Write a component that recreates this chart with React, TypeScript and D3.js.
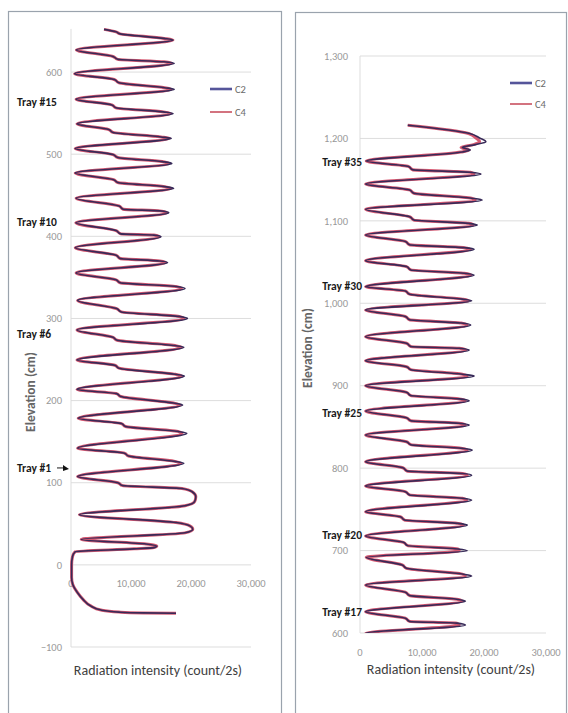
import React from 'react';
import * as d3 from 'd3';

// ---------- Data (elevation cm, intensity count/2s) ----------
const leftYTicks = [-100, 0, 100, 200, 300, 400, 500, 600];
const rightYTicks = [600, 700, 800, 900, 1000, 1100, 1200, 1300];
const xTicks = [0, 10000, 20000, 30000];

// Left panel (bottom section of the column)
const leftHead: [number, number][] = [[652, 5500], [649, 7500], [646.5, 8200], [641, 15500], [639, 17000]];
const leftDipElev = [627, 598, 567, 537, 507, 477, 446.5, 416.5, 386, 355.5, 322, 286, 249.5, 213.5, 178.5, 142];
const leftDipI = [900, 600, 850, 1000, 700, 700, 850, 800, 700, 850, 1100, 1000, 1000, 1000, 1200, 1100];
const leftStepTop: [number, number][] = [[619, 7000], [591, 7200], [560, 6800], [530, 6300], [499.5, 7000], [469, 7100], [437, 8000], [407, 7500], [377, 7500], [347, 7500], [312, 7600], [277, 7000], [243, 7300], [208.5, 7600], [172, 8400], [136, 8900]];
const leftStepBottom: [number, number][] = [[615.5, 7800], [587, 8000], [556.5, 7500], [526.5, 7000], [496, 7800], [465.5, 7800], [433, 8700], [403, 8300], [373, 8200], [343.5, 8200], [308, 8400], [273.5, 7700], [239.5, 8000], [205, 8300], [168.5, 9100], [132.5, 9600]];
const leftPrePeak: [number, number][] = [[612.5, 15500], [581, 15600], [551.5, 15400], [521, 15000], [491, 15200], [460.5, 15600], [431, 14800], [401.5, 13800], [370, 14800], [339, 17500], [302.5, 18000], [267, 17300], [232, 17400], [197, 17100], [162.5, 17800], [126, 17300]];
const leftPeakElev = [610.6, 579, 549.7, 519.3, 488.8, 458.4, 428.8, 399.5, 368, 336.5, 300, 265, 230, 194.6, 160.2, 123.6];
const leftPeakC2 = [17200, 17200, 17000, 16700, 16800, 17100, 16300, 15000, 16100, 19000, 19400, 18800, 18900, 18600, 19300, 18800];
const leftPeakC4 = [16800, 16700, 16600, 16400, 16300, 16700, 16000, 14700, 15800, 18400, 18800, 18400, 18500, 18200, 18500, 18300];
const leftTail: [number, number][] = [[107.5, 1100], [100, 7800], [96.5, 8600], [93, 18500], [89, 20200], [83, 20800], [77, 20600], [72, 19000], [61, 1400], [51.5, 17500], [47.5, 19800], [43.5, 20300], [39, 19000], [31, 1700], [25.5, 12500], [23, 14300], [21, 13800], [19.5, 10500], [16, 700], [10, 250], [0, 100], [-15, 100], [-24, 300], [-33, 1000], [-42, 2000], [-50, 3300], [-55, 5000], [-57.5, 8000], [-58.5, 12000], [-59, 17500]];

// Right panel (upper section of the column)
const rightHeadC2: [number, number][] = [[1216, 7700], [1206, 17700], [1200.5, 19300], [1196, 20300], [1192.5, 18600], [1189, 16500], [1186, 17800], [1183.5, 16500]];
const rightHeadC4: [number, number][] = [[1216, 7700], [1206, 17500], [1200.5, 18700], [1196, 19300], [1192.5, 18300], [1189, 16300], [1186, 17600], [1183.5, 16300]];
const rightDipElev = [1172.5, 1144.7, 1114, 1082.8, 1051.7, 1020.1, 991.9, 959.5, 930.3, 900, 869.3, 840.2, 807.8, 778.3, 747.2, 717.7, 691.8, 658.2, 625.8];
const rightDipI = [1000, 900, 900, 900, 900, 900, 900, 900, 900, 900, 900, 900, 900, 900, 900, 900, 1000, 900, 900];
const rightStepTop: [number, number][] = [[1166, 7800], [1137.5, 8000], [1105, 8000], [1075, 7300], [1044.5, 7500], [1015, 7300], [984, 7300], [951.5, 7500], [923, 7500], [892, 7500], [861, 7500], [832, 7500], [800.5, 6900], [771.5, 7300], [741, 6500], [710, 7000], [682.5, 6800], [649.5, 7300], [618, 7300]];
const rightStepBottom: [number, number][] = [[1162, 8500], [1133.5, 8700], [1101, 8700], [1071, 8000], [1040.5, 8200], [1011, 8000], [980, 8000], [947.5, 8200], [919.5, 8200], [888, 8200], [857.5, 8200], [828.5, 8200], [796.5, 7600], [767.5, 8000], [737, 7200], [706, 7700], [678.5, 7500], [645.5, 8000], [614, 8000]];
const rightPrePeak: [number, number][] = [[1159, 17800], [1127.5, 18000], [1097, 17500], [1067.5, 16800], [1036.5, 16800], [1005, 16500], [976, 16300], [945.5, 16000], [914, 16500], [884, 16000], [854.5, 16000], [824, 16500], [793.5, 16500], [763.5, 16500], [733, 15800], [702, 15800], [671.5, 16500], [641, 15600], [612, 15600]];
const rightPeakElev = [1156.8, 1125.3, 1095, 1065.5, 1034.3, 1003.1, 973.7, 943.3, 911.8, 881.8, 852.3, 822, 791.5, 761.3, 731, 699.8, 669.2, 638.8, 609.7];
const rightPeakC2 = [19500, 19700, 18900, 18400, 18400, 18000, 17850, 17600, 18400, 17600, 17600, 18100, 18000, 18000, 17300, 17300, 18000, 17000, 17000];
const rightPeakC4 = [18400, 18600, 18300, 17800, 17900, 17500, 17300, 17100, 17300, 17000, 17000, 17300, 17300, 17200, 16700, 16000, 17000, 16500, 16000];
const rightTail: [number, number][] = [[599.6, 900], [594, 5000]];

const leftTrays = [
  { label: 'Tray #15', elev: 563.5 },
  { label: 'Tray #10', elev: 417.5 },
  { label: 'Tray #6', elev: 281 },
  { label: 'Tray #1', elev: 118 },
];
const rightTrays = [
  { label: 'Tray #35', elev: 1171 },
  { label: 'Tray #30', elev: 1021 },
  { label: 'Tray #25', elev: 867 },
  { label: 'Tray #20', elev: 719 },
  { label: 'Tray #17', elev: 625 },
];

const seriesNames = ['C2', 'C4'];
const C2_COLOR = '#382a58';
const C4_COLOR = '#d65a72';

function buildSeries(
  head: [number, number][],
  dipE: number[], dipI: number[],
  st: [number, number][], sb: [number, number][], pp: [number, number][],
  pkE: number[], pkI: number[],
  tail: [number, number][]
): [number, number][] {
  const pts: [number, number][] = [...head];
  dipE.forEach((e, i) => {
    pts.push([e, dipI[i]], st[i], sb[i], pp[i], [pkE[i], pkI[i]]);
  });
  return pts.concat(tail);
}

const leftC2 = buildSeries(leftHead, leftDipElev, leftDipI, leftStepTop, leftStepBottom, leftPrePeak, leftPeakElev, leftPeakC2, leftTail);
const leftC4 = buildSeries(leftHead, leftDipElev, leftDipI, leftStepTop, leftStepBottom, leftPrePeak, leftPeakElev, leftPeakC4, leftTail);
const rightC2 = buildSeries(rightHeadC2, rightDipElev, rightDipI, rightStepTop, rightStepBottom, rightPrePeak, rightPeakElev, rightPeakC2, rightTail);
const rightC4 = buildSeries(rightHeadC4, rightDipElev, rightDipI, rightStepTop, rightStepBottom, rightPrePeak, rightPeakElev, rightPeakC4, rightTail);

const FONT = "Carlito, Lato, 'Open Sans', sans-serif";
const fmt = d3.format(',');

type PanelProps = {
  id: string;
  box: [number, number, number, number];
  x: d3.ScaleLinear<number, number>;
  y: d3.ScaleLinear<number, number>;
  yTicks: number[];
  yTop: number;
  yLabelRight: number;
  xLabelY: number;
  yTitle: [number, number];
  xTitle: [number, number];
  legend: [number, number, number];
  c2: [number, number][];
  c4: [number, number][];
  trays: { label: string; elev: number }[];
  trayX: number;
  trayAnchor: 'start' | 'end';
  arrow?: boolean;
};

function Panel(p: PanelProps) {
  const line = d3
    .line<[number, number]>()
    .x((d) => p.x(d[1]))
    .y((d) => p.y(d[0]))
    .curve(d3.curveMonotoneY);
  const x0 = p.x(0);
  const x1 = p.x(30000);
  const [bx, by, bw, bh] = p.box;
  const yMin = p.yTicks[0];
  return (
    <g>
      <rect x={bx} y={by} width={bw} height={bh} fill="#fff" stroke="#9aa3ad" strokeWidth={1.2} />
      <clipPath id={p.id}>
        <rect x={x0 - 5} y={p.y(p.yTop) - 3} width={x1 - x0 + 40} height={p.y(yMin) - p.y(p.yTop) + 3} />
      </clipPath>
      {p.yTicks.map((t) => (
        <line key={t} x1={x0} x2={x1} y1={p.y(t)} y2={p.y(t)} stroke="#d9d9d9" strokeWidth={0.9} />
      ))}
      <line x1={x0} x2={x0} y1={p.y(p.yTop)} y2={p.y(yMin)} stroke="#d9d9d9" strokeWidth={0.9} />
      {p.yTicks.map((t) => (
        <text key={t} x={p.yLabelRight} y={p.y(t)} dy="0.35em" textAnchor="end" fontSize={10.5} fill="#999" fontFamily={FONT}>
          {fmt(t)}
        </text>
      ))}
      {xTicks.map((t) => (
        <text key={t} x={p.x(t)} y={p.xLabelY} dy="0.35em" textAnchor="middle" fontSize={10.5} fill="#999" fontFamily={FONT}>
          {fmt(t)}
        </text>
      ))}
      <g clipPath={`url(#${p.id})`}>
        <path d={line(p.c4) || ''} fill="none" stroke={C4_COLOR} strokeWidth={3} strokeLinejoin="round" />
        <path d={line(p.c2) || ''} fill="none" stroke={C2_COLOR} strokeWidth={1.6} strokeLinejoin="round" />
      </g>
      <text
        transform={`translate(${p.yTitle[0]},${p.yTitle[1]}) rotate(-90)`}
        textAnchor="middle"
        dy="0.35em"
        fontSize={13.5}
        fontWeight="bold"
        fill="#666"
        fontFamily={FONT}
      >
        Elevation (cm)
      </text>
      <text x={p.xTitle[0]} y={p.xTitle[1]} dy="0.35em" textAnchor="middle" fontSize={14} fill="#404040" fontFamily={FONT}>
        Radiation intensity (count/2s)
      </text>
      {seriesNames.map((s, i) => (
        <g key={s}>
          <line
            x1={p.legend[0]}
            x2={p.legend[0] + 22}
            y1={p.legend[1] + i * p.legend[2]}
            y2={p.legend[1] + i * p.legend[2]}
            stroke={i === 0 ? '#55559a' : '#c8505f'}
            strokeWidth={i === 0 ? 2.6 : 1.6}
          />
          <text x={p.legend[0] + 25} y={p.legend[1] + i * p.legend[2]} dy="0.35em" fontSize={10.5} fill="#6a6a6a" fontFamily={FONT}>
            {s}
          </text>
        </g>
      ))}
      {p.trays.map((t) => (
        <text key={t.label} x={p.trayX} y={p.y(t.elev)} dy="0.35em" textAnchor={p.trayAnchor} fontSize={11.5} fontWeight="bold" fill="#1a1a1a" fontFamily={FONT}>
          {t.label}
        </text>
      ))}
      {p.arrow && (
        <g>
          <line x1={57} x2={63} y1={p.y(118)} y2={p.y(118)} stroke="#1a1a1a" strokeWidth={1} />
          <path d={`M${63},${p.y(118) - 3} L${69},${p.y(118) + 1} L${63},${p.y(118) + 3} Z`} fill="#111" />
        </g>
      )}
    </g>
  );
}

export default function App() {
  const xL = d3.scaleLinear().domain([0, 30000]).range([71, 251]);
  const yL = d3.scaleLinear().domain([-100, 650]).range([647, 31]);
  const xR = d3.scaleLinear().domain([0, 30000]).range([360, 546]);
  const yR = d3.scaleLinear().domain([600, 1300]).range([633, 56]);
  return (
    <svg width={568} height={713} style={{ position: 'absolute', left: 0, top: 0, background: '#fff' }}>
      <rect x={0} y={0} width={568} height={713} fill="#fff" />
      <Panel
        id="clipL"
        box={[8.5, 11.5, 273, 710]}
        x={xL}
        y={yL}
        yTicks={leftYTicks}
        yTop={652.5}
        yLabelRight={62}
        xLabelY={583}
        yTitle={[30, 392]}
        xTitle={[158, 670]}
        legend={[210, 89, 23]}
        c2={leftC2}
        c4={leftC4}
        trays={leftTrays}
        trayX={17}
        trayAnchor="start"
        arrow
      />
      <Panel
        id="clipR"
        box={[295.5, 12.5, 271, 710]}
        x={xR}
        y={yR}
        yTicks={rightYTicks}
        yTop={1300}
        yLabelRight={348}
        xLabelY={652}
        yTitle={[307, 348]}
        xTitle={[451, 669]}
        legend={[510, 83, 21]}
        c2={rightC2}
        c4={rightC4}
        trays={rightTrays}
        trayX={362}
        trayAnchor="end"
      />
    </svg>
  );
}
